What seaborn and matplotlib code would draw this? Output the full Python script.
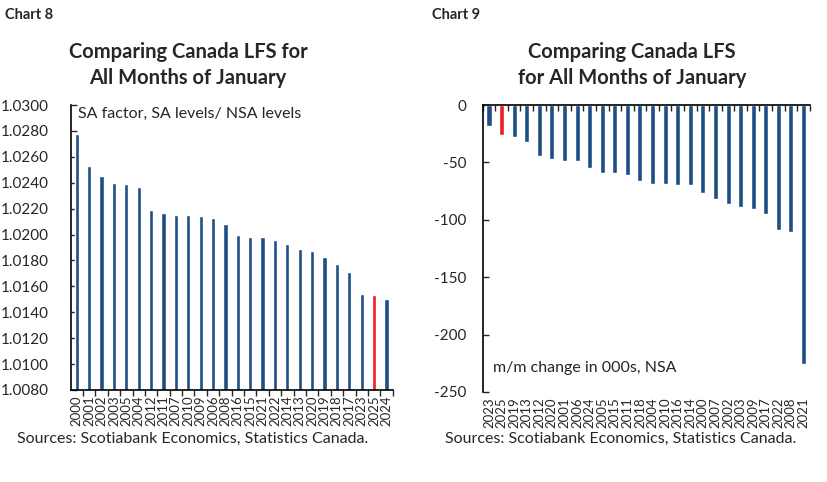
import numpy as np
import pandas as pd
import matplotlib
matplotlib.use("Agg")
import matplotlib.pyplot as plt
import seaborn as sns
from matplotlib.ticker import FixedLocator

sns.set_style("white")
plt.rcParams['font.family'] = ['Lato', 'DejaVu Sans']

navy = "#1f4e87"
red = "#ee1c25"

# Chart 8: SA factor for January, sorted
years8 = ["2000", "2001", "2002", "2003", "2005", "2004", "2012", "2011", "2007",
          "2010", "2009", "2006", "2008", "2016", "2015", "2021", "2022", "2014",
          "2013", "2020", "2019", "2018", "2017", "2023", "2025", "2024"]
sa_factor = [1.0278, 1.0253, 1.0245, 1.0240, 1.0239, 1.0237, 1.0219, 1.0217, 1.0215,
             1.0215, 1.0214, 1.0213, 1.0208, 1.0200, 1.0198, 1.0198, 1.0196, 1.0193,
             1.0189, 1.0187, 1.0183, 1.0177, 1.0171, 1.0154, 1.0153, 1.0150]

# Chart 9: m/m change in 000s, NSA, sorted
years9 = ["2023", "2025", "2019", "2013", "2012", "2020", "2001", "2006", "2024",
          "2005", "2015", "2011", "2018", "2004", "2010", "2016", "2014", "2000",
          "2007", "2002", "2003", "2009", "2017", "2022", "2008", "2021"]
mm_change = [-18, -26, -28, -32, -44, -47, -49, -49, -55,
             -59, -59, -61, -66, -69, -69, -70, -70, -77,
             -82, -86, -89, -91, -95, -109, -111, -226]

highlight = "2025"

df8 = pd.DataFrame({"year": years8, "val": sa_factor})
df9 = pd.DataFrame({"year": years9, "val": mm_change})
pal8 = {y: (red if y == highlight else navy) for y in years8}
pal9 = {y: (red if y == highlight else navy) for y in years9}

fig = plt.figure(figsize=(8.28, 4.82), dpi=100)
ax1 = fig.add_axes([0.086, 0.191, 0.389, 0.591])
ax2 = fig.add_axes([0.583, 0.187, 0.395, 0.595])

# ---- chart 8
sns.barplot(data=df8, x="year", y="val", hue="year", palette=pal8, legend=False,
            width=0.34, ax=ax1, order=years8, saturation=1)
ax1.set_ylim(1.0080, 1.0300)
ax1.set_xlim(-0.45, 25.55)
ticks8 = np.arange(1.0080, 1.03001, 0.002)
ax1.set_yticks(ticks8)
ax1.set_yticklabels([f"{v:.4f}" for v in ticks8], fontsize=11)
ax1.set_xlabel("")
ax1.set_ylabel("")
ax1.tick_params(axis="x", which="major", length=0, labelsize=9.5, rotation=90, pad=4)
ax1.xaxis.set_minor_locator(FixedLocator(np.arange(-0.5, 26, 1)))
ax1.tick_params(axis="x", which="minor", bottom=True, direction="out", length=4, width=1)
ax1.tick_params(axis="y", left=True, direction="in", length=4, width=1, pad=16)
for s in ["top", "right"]:
    ax1.spines[s].set_visible(False)
for s in ["left", "bottom"]:
    ax1.spines[s].set_color("black")
    ax1.spines[s].set_linewidth(1.2)
ax1.text(0.02, 0.995, "SA factor, SA levels/ NSA levels", transform=ax1.transAxes,
         ha="left", va="top", fontsize=11.5)

# ---- chart 9
sns.barplot(data=df9, x="year", y="val", hue="year", palette=pal9, legend=False,
            width=0.4, ax=ax2, order=years9, saturation=1)
ax2.set_ylim(-250, 0)
ax2.set_xlim(-0.5, 25.5)
ax2.set_yticks([0, -50, -100, -150, -200, -250])
ax2.set_yticklabels(["0", "-50", "-100", "-150", "-200", "-250"], fontsize=11)
ax2.set_xlabel("")
ax2.set_ylabel("")
ax2.tick_params(axis="x", which="major", length=0, labelsize=9.5, rotation=90, pad=4)
ax2.xaxis.set_minor_locator(FixedLocator(np.arange(-0.5, 26, 1)))
ax2.tick_params(axis="x", which="minor", bottom=False, top=True, direction="in",
                length=4, width=1)
ax2.tick_params(axis="y", left=True, direction="in", length=4, width=1, pad=12)
for s in ["bottom", "right"]:
    ax2.spines[s].set_visible(False)
for s in ["left", "top"]:
    ax2.spines[s].set_color("black")
    ax2.spines[s].set_linewidth(1.2)
ax2.text(0.03, 0.06, "m/m change in 000s, NSA", transform=ax2.transAxes,
         ha="left", va="bottom", fontsize=11.5)

# ---- headings and sources
fig.text(0.006, 0.968, "Chart 8", fontsize=10.5, fontweight="bold", ha="left", va="center")
fig.text(0.522, 0.968, "Chart 9", fontsize=10.5, fontweight="bold", ha="left", va="center")
fig.text(0.227, 0.865, "Comparing Canada LFS for\nAll Months of January", fontsize=14.5,
         fontweight="bold", ha="center", va="center", linespacing=1.4)
fig.text(0.763, 0.865, "Comparing Canada LFS\nfor All Months of January", fontsize=14.5,
         fontweight="bold", ha="center", va="center", linespacing=1.4)
fig.text(0.020, 0.090, "Sources: Scotiabank Economics, Statistics Canada.", fontsize=11.5,
         ha="left", va="center")
fig.text(0.537, 0.090, "Sources: Scotiabank Economics, Statistics Canada.", fontsize=11.5,
         ha="left", va="center")

fig.savefig("out.png", dpi=100)
